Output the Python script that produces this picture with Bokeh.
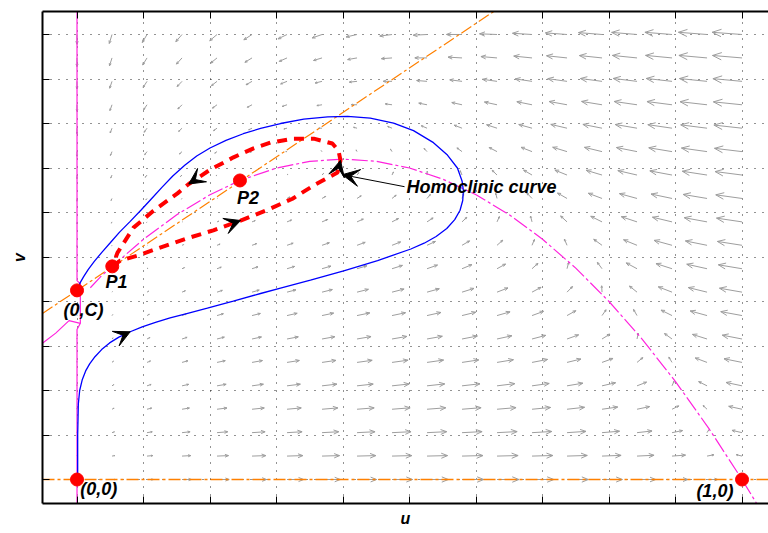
import numpy as np
from bokeh.plotting import figure
from bokeh.models import Range1d, LinearAxis, FixedTicker, Label, Arrow, VeeHead
from bokeh.embed import file_html
from bokeh.resources import INLINE

# ---------------- data ----------------
X_LIMITS = (-0.0519, 1.0398)
Y_LIMITS = (-0.0539, 1.0517)
TICKS = [0.0, 0.1, 0.2, 0.3, 0.4, 0.5, 0.6, 0.7, 0.8, 0.9, 1.0]

# model parameters (read from nullclines / equilibria)
A_PRED = 0.5      # predation strength
D_SAT = 0.2       # half saturation
C_ALT = 0.425     # alternative food (0,C)
S_RATE = 0.13     # predator growth rate

# quiver grid
N_GRID = 20

# equilibria
eq_u = [0.0, 1.0, 0.0, 0.053, 0.245]
eq_v = [0.0, 0.0, 0.425, 0.479, 0.672]
eq_text = ["(0,0)", "(1,0)", "(0,C)", "P1", "P2"]
lab_u = [0.005, 0.987, 0.0098, 0.0594, 0.257]
lab_v = [-0.022, -0.025, 0.38, 0.444, 0.633]
lab_align = ["left", "right", "center", "center", "center"]

# prey nullcline (hump)
hump_u = [0.02, 0.035, 0.053, 0.1, 0.15, 0.2, 0.245, 0.3, 0.35, 0.4, 0.45, 0.5, 0.55, 0.6,
          0.65, 0.7, 0.75, 0.8, 0.85, 0.9, 0.95, 1.0, 1.022]
hump_v = [0.431, 0.455, 0.479, 0.54, 0.595, 0.64, 0.672, 0.70, 0.715, 0.72, 0.715, 0.70, 0.675, 0.64,
          0.595, 0.54, 0.475, 0.40, 0.315, 0.22, 0.115, 0.0, -0.054]
left_u = [-0.052, -0.032, -0.012, 0.005]
left_v = [0.306, 0.329, 0.357, 0.351]
vert_u = [0.0, 0.0, 0.005, 0.005, 0.0, 0.0]
vert_v = [1.0517, 0.447, 0.44, 0.351, 0.337, -0.0539]
# predator nullclines
pred_u = [-0.0519, 0.627]
pred_v = [0.373, 1.052]
zero_u = [-0.0519, 1.0398]
zero_v = [0.0, 0.0]

# blue trajectory
blue_u = [0.001, 0.001, 0.002, 0.004, 0.008, 0.013, 0.019, 0.027, 0.037, 0.049, 0.063, 0.080,
          0.098, 0.118, 0.140, 0.165, 0.196, 0.235, 0.276, 0.306, 0.351, 0.401, 0.452, 0.502,
          0.522, 0.540, 0.556, 0.568, 0.576, 0.580, 0.581, 0.579, 0.572, 0.557, 0.536, 0.506,
          0.476, 0.441, 0.407, 0.377, 0.341, 0.306, 0.276, 0.250, 0.224, 0.200, 0.180, 0.162,
          0.144, 0.128, 0.112, 0.096, 0.080, 0.064, 0.050, 0.037, 0.026, 0.017, 0.010, 0.005,
          0.002]
blue_v = [0.005, 0.100, 0.170, 0.200, 0.225, 0.244, 0.260, 0.276, 0.292, 0.307, 0.320, 0.332,
          0.343, 0.353, 0.363, 0.373, 0.385, 0.401, 0.418, 0.430, 0.448, 0.469, 0.492, 0.518,
          0.531, 0.546, 0.564, 0.584, 0.605, 0.627, 0.649, 0.671, 0.700, 0.729, 0.757, 0.784,
          0.801, 0.812, 0.816, 0.815, 0.810, 0.800, 0.789, 0.777, 0.762, 0.745, 0.727, 0.706,
          0.682, 0.657, 0.631, 0.605, 0.580, 0.556, 0.532, 0.510, 0.490, 0.472, 0.456, 0.443,
          0.433]

# red homoclinic loop
red_u = [0.053, 0.065, 0.091, 0.121, 0.166, 0.205, 0.246, 0.265, 0.291, 0.324, 0.356, 0.3917,
         0.3962, 0.3932, 0.384, 0.356, 0.3256, 0.291, 0.2654, 0.2353, 0.2, 0.168, 0.1511, 0.115,
         0.085, 0.061, 0.053]
red_v = [0.479, 0.492, 0.503, 0.519, 0.542, 0.560, 0.582, 0.593, 0.609, 0.631, 0.661, 0.690,
         0.717, 0.739, 0.755, 0.766, 0.766, 0.757, 0.744, 0.724, 0.696, 0.664, 0.643, 0.604,
         0.566, 0.510, 0.479]
blue_arrow_idx = [11]
red_arrow_idx = [6, 12, 21]

note_text = "Homoclinic curve"
note_u, note_v = 0.4925, 0.658
note_tip_u, note_tip_v = 0.399, 0.685

# ---------------- figure ----------------
W, H = 768, 533
BL, BR, BT, BB = 42, 0, 11, 30
p = figure(width=W, height=H, x_range=Range1d(*X_LIMITS), y_range=Range1d(*Y_LIMITS),
           output_backend="svg", toolbar_location=None,
           min_border_left=BL, min_border_right=BR, min_border_top=BT, min_border_bottom=BB)
p.outline_line_color = None
p.background_fill_color = "white"
p.border_fill_color = "white"

FONT = "Liberation Sans"
def style_axis(ax):
    ax.ticker = FixedTicker(ticks=TICKS)
    ax.major_label_text_color = None
    ax.major_label_text_font_size = "1px"
    ax.major_label_standoff = 0
    ax.major_tick_in = 7
    ax.major_tick_out = 0
    ax.minor_tick_line_color = None
    ax.axis_line_width = 2
    ax.axis_line_color = "black"
    ax.major_tick_line_color = "black"
    ax.major_tick_line_width = 1

for ax in (p.xaxis[0], p.yaxis[0]):
    style_axis(ax)
    ax.axis_label_text_font = FONT
    ax.axis_label_text_font_style = "bold italic"
    ax.axis_label_text_font_size = "16px"
    ax.axis_label_text_color = "black"
p.xaxis.axis_label = "u"
p.yaxis.axis_label = "v"
p.xaxis.axis_label_standoff = 6
p.yaxis.axis_label_standoff = 15

top = LinearAxis()
style_axis(top)
p.add_layout(top, "above")

for g in (p.xgrid[0], p.ygrid[0]):
    g.ticker = FixedTicker(ticks=TICKS)
    g.grid_line_color = "black"
    g.grid_line_dash = "1 7"
    g.grid_line_width = 1
    g.grid_line_alpha = 0.85

# ---------------- vector field ----------------
SX = (W - BL - BR) / (X_LIMITS[1] - X_LIMITS[0])
SY = (H - BT - BB) / (Y_LIMITS[1] - Y_LIMITS[0])
grid = np.linspace(0.0, 1.0, N_GRID)
ug, vg = np.meshgrid(grid, grid)
du = ug * ((1 - ug) * (ug + D_SAT) - A_PRED * vg)
dv = S_RATE * vg * (ug + C_ALT - vg)
px, py = du * SX, dv * SY
mag = np.hypot(px, py)
keep = mag > 1e-9
ug, vg, px, py, mag = ug[keep], vg[keep], px[keep], py[keep], mag[keep]
L = 39.0 * mag / (mag + 100.0)
ang = np.arctan2(py, px)
hx = ug + L * np.cos(ang) / SX
hy = vg + L * np.sin(ang) / SY
x0 = [ug]; y0 = [vg]; x1 = [hx]; y1 = [hy]
for da in (np.radians(22), -np.radians(22)):
    b = ang + np.pi + da
    x0.append(hx); y0.append(hy)
    x1.append(hx + 0.33 * L * np.cos(b) / SX)
    y1.append(hy + 0.33 * L * np.sin(b) / SY)
p.segment(np.concatenate(x0), np.concatenate(y0), np.concatenate(x1), np.concatenate(y1),
          line_color="#9e9e9e", line_width=1)

# ---------------- nullclines ----------------
p.line(zero_u, zero_v, line_color="#ff8000", line_width=1.6, line_dash="12 3 3 3")
p.line(pred_u, pred_v, line_color="#ff8000", line_width=1.2, line_dash="12 3 3 3")
p.line(vert_u, vert_v, line_color="#ff22dd", line_width=1.2)
p.line(left_u, left_v, line_color="#ff22dd", line_width=1.2)
p.line(hump_u, hump_v, line_color="#ff22dd", line_width=1.2, line_dash="16 3 3 3")

# ---------------- trajectories ----------------
p.line(blue_u, blue_v, line_color="#0000ff", line_width=1.3)
p.line(red_u, red_v, line_color="#ff0000", line_width=4, line_dash="10 7")

def add_head(xs, ys, i, size):
    p.add_layout(Arrow(end=VeeHead(size=size, fill_color="black", line_color="black"),
                       x_start=xs[i - 1], y_start=ys[i - 1], x_end=xs[i], y_end=ys[i],
                       line_alpha=0))

for i in blue_arrow_idx:
    add_head(blue_u, blue_v, i, 16)
for i in red_arrow_idx:
    add_head(red_u, red_v, i, 16)

# annotation
p.add_layout(Arrow(end=VeeHead(size=17, fill_color="black", line_color="black"),
                   x_start=note_u, y_start=note_v, x_end=note_tip_u, y_end=note_tip_v,
                   line_color="black", line_width=1))
p.add_layout(Label(x=note_u, y=note_v, text=note_text, text_font=FONT, text_color="black",
                   text_font_style="bold italic", text_font_size="18px",
                   text_baseline="middle", text_align="left", x_offset=2))

# equilibria
p.scatter(eq_u, eq_v, size=13, fill_color="#ff0000", line_color="#ff0000")
for t, x, y, a in zip(eq_text, lab_u, lab_v, lab_align):
    p.add_layout(Label(x=x, y=y, text=t, text_font=FONT, text_font_style="bold italic",
                       text_color="black", text_font_size="18px",
                       text_baseline="middle", text_align=a))

open("out.html", "w").write(file_html(p, INLINE))
